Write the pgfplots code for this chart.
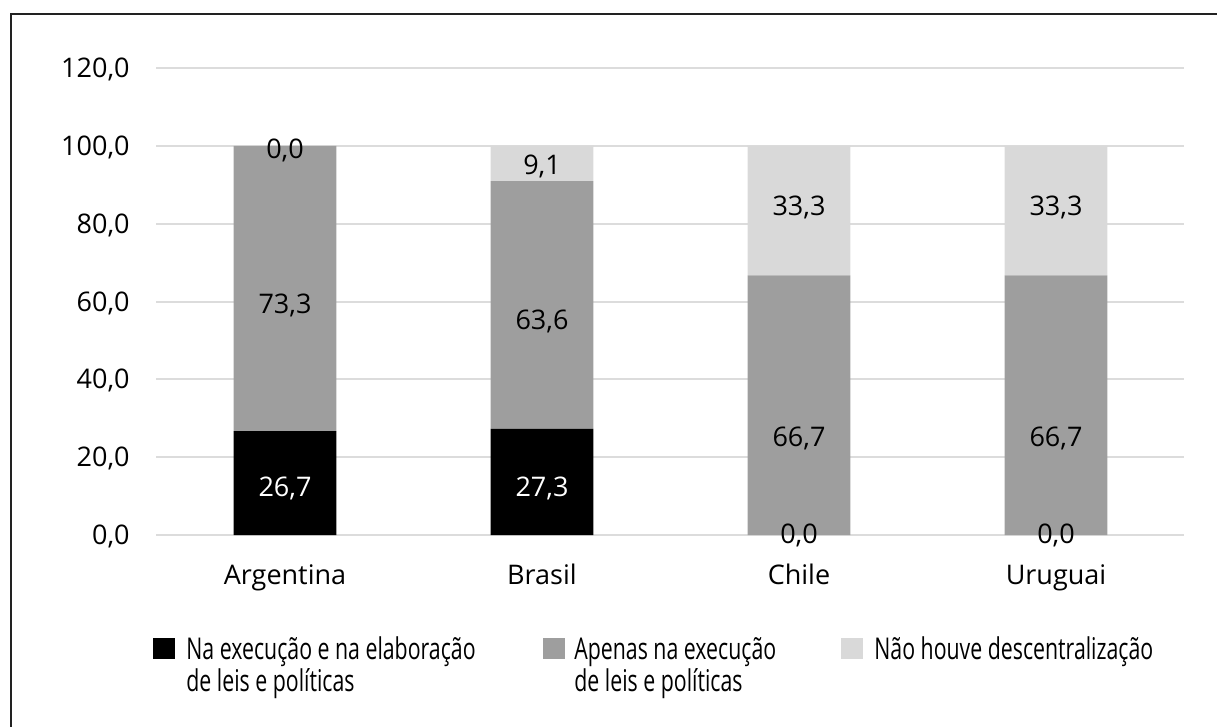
\documentclass[border=0pt]{standalone}
\usepackage{fontspec}
\setmainfont{Open Sans}
\newfontfamily\condensed[FakeStretch=0.71]{Open Sans}
\usepackage{pgfplots}
\pgfplotsset{compat=1.18}
\definecolor{midgray}{HTML}{9E9E9E}
\definecolor{lightgr}{HTML}{D9D9D9}
\definecolor{gridc}{HTML}{DCDCDC}
\definecolor{framec}{HTML}{222222}
\tikzset{lab/.style={font=\fontsize{13.5}{16}\selectfont, anchor=base, yshift=-4.8pt, inner sep=0pt}}
\begin{document}
\begin{tikzpicture}
\path[use as bounding box] (0,0) rectangle (608.5pt,-363.5pt);
\draw[framec, line width=1pt] (5.5pt,-363.5pt) -- (5.5pt,-7pt) -- (608.5pt,-7pt);
\begin{axis}[
  at={(78.25pt,-267.5pt)}, anchor=south west,
  scale only axis, width=514pt, height=233.5pt,
  ybar stacked, bar width=0.4,
  xmin=-0.5, xmax=3.5, ymin=0, ymax=120,
  xtick={0,1,2,3}, xticklabels={Argentina,Brasil,Chile,Uruguai},
  ytick={0,20,40,60,80,100,120},
  ymajorgrids, grid style={color=gridc, line width=1pt},
  axis line style={draw=none}, major tick length=0pt,
  tick label style={font=\fontsize{13.5}{16}\selectfont, inner sep=0pt},
  xticklabel style={anchor=base, yshift=-24.5pt},
  yticklabel style={anchor=base east, xshift=-13.25pt, yshift=-4.8pt,
    /pgf/number format/fixed, /pgf/number format/fixed zerofill,
    /pgf/number format/precision=1, /pgf/number format/use comma,
    /pgf/number format/assume math mode=true},
  clip=false,
]
\addplot[fill=black, draw=none] coordinates {(0,26.7) (1,27.3) (2,0) (3,0)};
\addplot[fill=midgray, draw=none] coordinates {(0,73.3) (1,63.6) (2,66.7) (3,66.7)};
\addplot[fill=lightgr, draw=none] coordinates {(0,0) (1,9.1) (2,33.3) (3,33.3)};
\coordinate (a1) at (axis cs:0,12.4);
\coordinate (a2) at (axis cs:0,59.5);
\coordinate (a3) at (axis cs:0,99.2);
\coordinate (b1) at (axis cs:1,12.4);
\coordinate (b2) at (axis cs:1,55.2);
\coordinate (b3) at (axis cs:1,95.1);
\coordinate (c1) at (axis cs:2,0.3);
\coordinate (c2) at (axis cs:2,25.2);
\coordinate (c3) at (axis cs:2,84.6);
\coordinate (d1) at (axis cs:3,0.3);
\coordinate (d2) at (axis cs:3,25.2);
\coordinate (d3) at (axis cs:3,84.6);
\end{axis}
\node[lab, white] at (a1) {26,7};
\node[lab] at (a2) {73,3};
\node[lab] at (a3) {0,0};
\node[lab, white] at (b1) {27,3};
\node[lab] at (b2) {63,6};
\node[lab] at (b3) {9,1};
\node[lab] at (c1) {0,0};
\node[lab] at (c2) {66,7};
\node[lab] at (c3) {33,3};
\node[lab] at (d1) {0,0};
\node[lab] at (d2) {66,7};
\node[lab] at (d3) {33,3};
\begin{scope}[x=0.5pt, y=-0.5pt]
  \fill[black] (153,638) rectangle (175,659);
  \fill[midgray] (543,638) rectangle (565,659);
  \fill[lightgr] (841,638) rectangle (863,659);
  \tikzset{leg/.style={anchor=base west, inner sep=0pt, font=\condensed\fontsize{15}{16}\selectfont}}
  \node[leg] at (186,659) {Na execução e na elaboração};
  \node[leg] at (186,691.5) {de leis e políticas};
  \node[leg] at (574,659) {Apenas na execução};
  \node[leg] at (574,691.5) {de leis e políticas};
  \node[leg] at (874,659) {Não houve descentralização};
\end{scope}
\end{tikzpicture}
\end{document}
